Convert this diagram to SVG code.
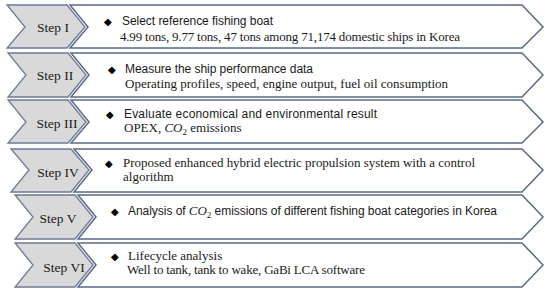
<svg xmlns="http://www.w3.org/2000/svg" width="550" height="294" viewBox="0 0 550 294">
<style>
.g{fill:#d9d9d9;stroke:#6b7a96;stroke-width:1.3}
.w{fill:#ffffff;stroke:#5a6987;stroke-width:1.5}
.lab{font-family:"Liberation Serif",serif;font-size:13.5px;fill:#1a1a1a;text-anchor:middle}
.s{font-family:"Liberation Sans",Arial,sans-serif;font-size:12px;fill:#1a1a1a}
.r{font-family:"Liberation Serif",serif;font-size:13px;fill:#1a1a1a}
.d{font-family:"DejaVu Sans",sans-serif;font-size:10px;fill:#000}
.i{font-family:"Liberation Serif",serif;font-style:italic}
.sub{font-family:"Liberation Serif",serif;font-size:9px}
</style>
<rect width="550" height="294" fill="#ffffff"/>
<g id="step1">
<polygon class="g" points="7,5 67,5 85,27 67,48 7,48 25,27"/>
<polygon class="w" points="70,5 522,5 543,27 522,48 70,48 88,27"/>
<text class="lab" x="53" y="32">Step I</text>
<text class="d" x="104" y="25">◆</text>
<text class="s" x="122" y="25" textLength="151">Select reference fishing boat</text>
<text class="r" x="120" y="41" textLength="340">4.99 tons, 9.77 tons, 47 tons  among 71,174 domestic ships in Korea</text>
</g>
<g id="step2">
<polygon class="g" points="8,53 68,53 86,75 68,97 8,97 26,75"/>
<polygon class="w" points="71,53 522,53 543,75 522,97 71,97 89,75"/>
<text class="lab" x="55" y="80">Step II</text>
<text class="d" x="108" y="73">◆</text>
<text class="s" x="125" y="73" textLength="188">Measure the ship performance data</text>
<text class="r" x="125" y="88" textLength="323">Operating profiles, speed, engine output, fuel oil consumption</text>
</g>
<g id="step3">
<polygon class="g" points="8,100 68,100 86,122 68,143 8,143 26,122"/>
<polygon class="w" points="71,100 522,100 543,122 522,143 71,143 89,122"/>
<text class="lab" x="57" y="128">Step III</text>
<text class="d" x="106" y="118">◆</text>
<text class="s" x="124" y="118" textLength="253">Evaluate economical and environmental result</text>
<text class="r" x="124" y="132">OPEX, <tspan class="i">CO</tspan><tspan class="sub" dy="3">2</tspan><tspan dy="-3"> emissions</tspan></text>
</g>
<g id="step4">
<polygon class="g" points="11,149 71,149 89,170 71,192 11,192 29,170"/>
<polygon class="w" points="74,149 522,149 543,170 522,192 74,192 92,170"/>
<text class="lab" x="58" y="177">Step IV</text>
<text class="d" x="105" y="167">◆</text>
<text class="r" x="123" y="167" textLength="352">Proposed enhanced hybrid electric propulsion system with a control</text>
<text class="r" x="123" y="181">algorithm</text>
</g>
<g id="step5">
<polygon class="g" points="15,195 75,195 93,217 75,239 15,239 33,217"/>
<polygon class="w" points="78,195 522,195 543,217 522,239 78,239 96,217"/>
<text class="lab" x="58" y="223">Step V</text>
<text class="d" x="111" y="215">◆</text>
<text class="s" x="128" y="215" textLength="369">Analysis of <tspan class="i" font-size="13">CO</tspan><tspan class="sub" dy="3">2</tspan><tspan dy="-3"> emissions of different fishing boat categories in Korea</tspan></text>
</g>
<g id="step6">
<polygon class="g" points="15,243 75,243 93,265 75,287 15,287 33,265"/>
<polygon class="w" points="78,243 522,243 543,265 522,287 78,287 96,265"/>
<text class="lab" x="64" y="272">Step VI</text>
<text class="d" x="111" y="260">◆</text>
<text class="r" x="128" y="260">Lifecycle analysis</text>
<text class="r" x="127" y="274" textLength="238">Well to tank, tank to wake, GaBi LCA software</text>
</g>
<g id="connectors"></g>
</svg>
